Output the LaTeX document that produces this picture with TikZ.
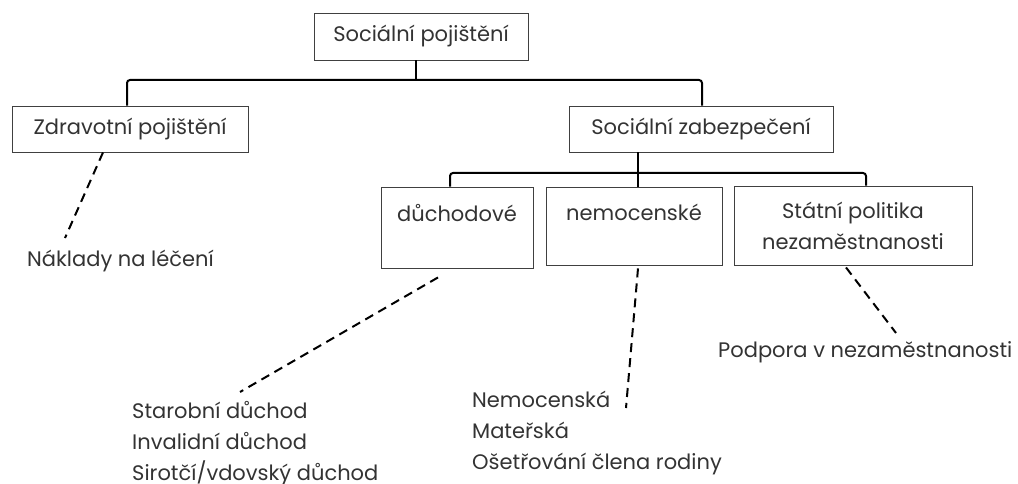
\documentclass[tikz,border=0pt]{standalone}
\usepackage{fontspec}
\setmainfont{Poppins}
\usetikzlibrary{positioning,calc}
\colorlet{inkgray}{black!80}
\tikzset{
    boxsty/.style={draw=black!75,line width=0.9pt,rectangle,inner sep=0pt},
    txtsty/.style={font=\fontsize{21}{31}\selectfont,text=inkgray,inner sep=0pt},
    leafsty/.style={txtsty,align=left,anchor=north west},
    linksty/.style={line width=2pt,rounded corners=3pt},
    dashsty/.style={line width=2pt,dash pattern=on 9pt off 6pt},
}

\begin{document}
\begin{tikzpicture}[x=1pt,y=-1pt]
  \useasboundingbox (0,0) rectangle (1018,484);

  % boxes
  \node[boxsty,txtsty,minimum width=214pt,minimum height=47pt] (socpoj) at (421,36.5) {Sociální pojištění};
  \node[boxsty,txtsty,minimum width=236pt,minimum height=46pt] (zdrav) at (130,129) {Zdravotní pojištění};
  \node[boxsty,txtsty,minimum width=264pt,minimum height=46pt] (socz) at (701,129) {Sociální zabezpečení};
  \node[boxsty,minimum width=152pt,minimum height=81pt] (duch) at (457,227.5) {};
  \node[boxsty,minimum width=176pt,minimum height=78pt] (nemo) at (634,226) {};
  \node[boxsty,txtsty,align=center,minimum width=238pt,minimum height=79pt] (stat) at (853,225.5) {Státní politika\\nezaměstnanosti};
  \node[txtsty] (duchT) at ([yshift=-26pt]duch.north) {důchodové};
  \node[txtsty] (nemoT) at ([yshift=-26pt]nemo.north) {nemocenské};

  % leaves
  \node[leafsty] (naklady) at (27,250) {Náklady na léčení};
  \node[leafsty] (duchL) at (132,401) {Starobní důchod\\Invalidní důchod\\Sirotčí/vdovský důchod};
  \node[leafsty] (nemoL) at (472,391) {Nemocenská\\Mateřská\\Ošetřování člena rodiny};
  \node[leafsty] (podpora) at (718,341) {Podpora v nezaměstnanosti};

  % tree
  \coordinate (j1) at (416,80);
  \coordinate (j2) at (638,173);
  \draw[linksty] ([xshift=-5pt]socpoj.south) -- (j1);
  \draw[linksty] ([xshift=-3pt]zdrav.north) |- (j1) -| ([xshift=1pt]socz.north);
  \draw[linksty] ([xshift=-63pt]socz.south) -- ([xshift=4pt]nemo.north);
  \draw[linksty] ([xshift=-7pt]duch.north) |- (j2) -| ([xshift=13pt]stat.north);

  % dashed links
  \coordinate (nakladyEnd) at (65,238);
  \coordinate (duchEnd) at (240,392);
  \coordinate (nemoEnd) at (626,408);
  \coordinate (podporaEnd) at (896,333);
  \draw[dashsty] ([xshift=-27pt]zdrav.south) -- (nakladyEnd);
  \draw[dashsty] ([xshift=-19pt,yshift=-9pt]duch.south) -- (duchEnd);
  \draw[dashsty] ([xshift=4pt,yshift=-3pt]nemo.south) -- (nemoEnd);
  \draw[dashsty] ([xshift=-7pt,yshift=-2pt]stat.south) -- (podporaEnd);
\end{tikzpicture}
\end{document}
